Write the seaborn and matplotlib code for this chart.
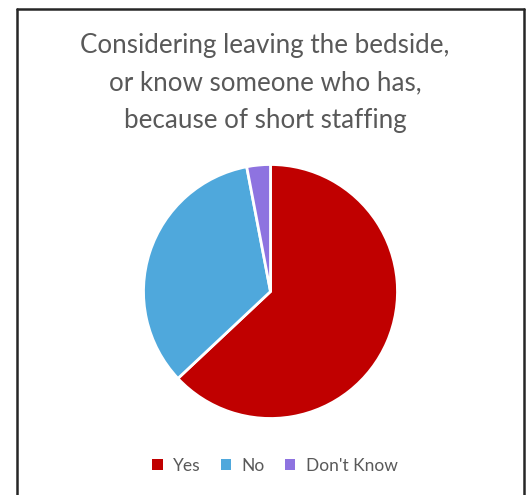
import matplotlib
matplotlib.use("Agg")
import matplotlib.pyplot as plt
import seaborn as sns
import pandas as pd
from matplotlib.lines import Line2D
from matplotlib.patches import Patch

categories = ["Yes", "No", "Don't Know"]
values = [63, 34, 3]
colors = ["#C00000", "#4FA8DC", "#8E73E0"]
title = "Considering leaving the bedside,\nor know someone who has,\nbecause of short staffing"

sns.set_theme(style="white")
plt.rcParams["font.family"] = ["Lato", "DejaVu Sans"]

df = pd.DataFrame({"category": categories, "value": values})

W, H = 527, 495
fig = plt.figure(figsize=(W / 100, H / 100), dpi=100)
fig.patch.set_facecolor("white")

cx, cy, r = 270.5, 291.5, 127
ax = fig.add_axes([(cx - r) / W, (H - cy - r) / H, 2 * r / W, 2 * r / H])
ax.pie(df["value"], colors=colors, startangle=90, counterclock=False,
       wedgeprops=dict(edgecolor="white", linewidth=2))
ax.set_xlim(-1, 1)
ax.set_ylim(-1, 1)
ax.set_aspect("equal")
ax.axis("off")

# frame
lc = "#262626"
fig.add_artist(Line2D([17 / W, 17 / W], [0, 1 - 9 / H], transform=fig.transFigure, color=lc, lw=1.8))
fig.add_artist(Line2D([524 / W, 524 / W], [0, 1 - 9 / H], transform=fig.transFigure, color=lc, lw=1.8))
fig.add_artist(Line2D([17 / W, 524 / W], [1 - 9 / H, 1 - 9 / H], transform=fig.transFigure, color=lc, lw=1.8))

fig.text(265 / W, 1 - 83 / H, title, ha="center", va="center", fontsize=18.7,
         color="#595959", linespacing=1.62)

handles = [Patch(facecolor=c, edgecolor="none") for c in colors]
fig.legend(handles, categories, loc="center", bbox_to_anchor=(275 / W, 1 - 466 / H),
           ncol=3, frameon=False, fontsize=12.5, labelcolor="#595959",
           handlelength=0.6, handleheight=0.6, handletextpad=0.6, columnspacing=1.15)

fig.savefig("out.png", dpi=100, facecolor="white")
